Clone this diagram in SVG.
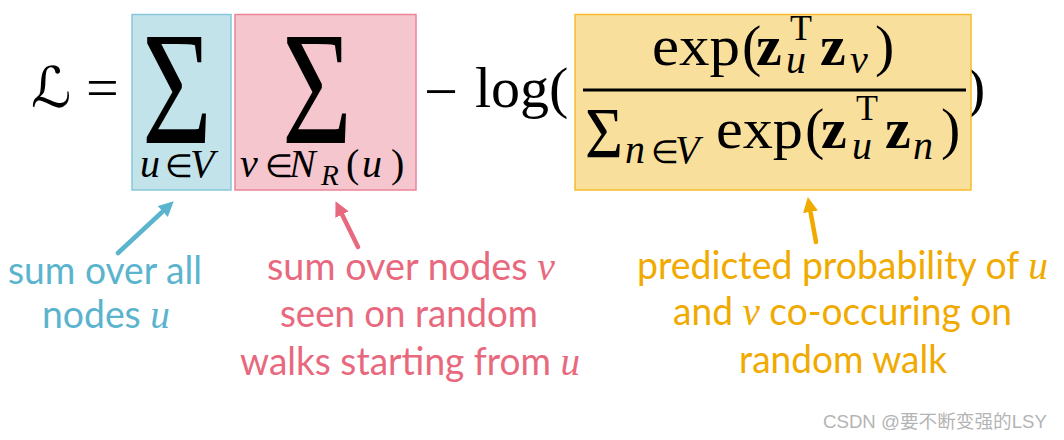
<svg xmlns="http://www.w3.org/2000/svg" width="1064" height="440" viewBox="0 0 1064 440">
<style>
.m{font-family:"Liberation Serif","Times New Roman",serif;font-size:58px;fill:#000}
.mi{font-family:"Liberation Serif","Times New Roman",serif;font-style:italic}
.mb{font-family:"Liberation Serif","Times New Roman",serif;font-weight:bold}
.sub{font-size:40px}
.el{font-size:32px}
.sup{font-size:36px}
.lab{font-family:Lato,"Open Sans","Liberation Sans",sans-serif;font-size:38px}
.li{font-family:"Liberation Serif",serif;font-style:italic;font-size:40px}
.blue{fill:#5AB4CE}
.pink{fill:#E8697E}
.yel{fill:#F0AA00}
.conn{fill:none;stroke-width:4.5;stroke-linecap:round}
</style>
<defs>
<marker id="hb" viewBox="0 0 10 10" refX="0" refY="5" markerWidth="15" markerHeight="15" markerUnits="userSpaceOnUse" orient="auto"><path d="M0,0 L10,5 L0,10 z" fill="#5AB4CE"/></marker>
<marker id="hp" viewBox="0 0 10 10" refX="0" refY="5" markerWidth="15" markerHeight="15" markerUnits="userSpaceOnUse" orient="auto"><path d="M0,0 L10,5 L0,10 z" fill="#E8697E"/></marker>
<marker id="hy" viewBox="0 0 10 10" refX="0" refY="5" markerWidth="15" markerHeight="15" markerUnits="userSpaceOnUse" orient="auto"><path d="M0,0 L10,5 L0,10 z" fill="#F0AA00"/></marker>
</defs>
<rect width="1064" height="440" fill="#fff"/>

<g id="lhs">
<text x="31" y="107" font-family="'DejaVu Serif','DejaVu Sans',serif" font-size="56" fill="#000">ℒ</text>
<text class="m" x="86" y="107">=</text>
</g>

<g id="term-sum-u">
<rect x="132" y="14.5" width="99" height="175.5" fill="#C3E3EA" stroke="#86C8DA" stroke-width="1.5"/>
<text class="m" x="142" y="143" style="font-size:160px" textLength="70" lengthAdjust="spacingAndGlyphs">Σ</text>
<text class="m sub" y="177"><tspan class="mi" x="140">u</tspan><tspan class="el" x="165">∈</tspan><tspan class="mi" x="190">V</tspan></text>
</g>

<g id="term-sum-v">
<rect x="235" y="14.5" width="181" height="175.5" fill="#F6C6CE" stroke="#EA8598" stroke-width="1.5"/>
<text class="m" x="282" y="143" style="font-size:160px" textLength="70" lengthAdjust="spacingAndGlyphs">Σ</text>
<text class="m sub" y="177"><tspan class="mi" x="240">v</tspan><tspan class="el" x="265">∈</tspan><tspan class="mi" x="289">N</tspan><tspan class="mi" x="321" y="185" style="font-size:29px">R</tspan><tspan x="346" y="177">(</tspan><tspan class="mi" x="362">u</tspan><tspan x="391">)</tspan></text>
</g>

<g id="term-log">
<text class="m" x="424" y="111" textLength="34" lengthAdjust="spacingAndGlyphs">−</text>
<text class="m" x="475" y="107">log(</text>
<text class="m" x="966" y="107">)</text>
</g>

<g id="term-prob">
<rect x="575" y="14.5" width="396" height="175.5" fill="#F9DF9C" stroke="#F6BC2A" stroke-width="1.5"/>
<text class="m" x="652" y="65" textLength="88" lengthAdjust="spacingAndGlyphs">exp</text>
<text class="m" y="65"><tspan x="742">(</tspan><tspan class="mb" x="756">z</tspan><tspan class="mb" x="820">z</tspan><tspan x="875">)</tspan></text>
<text class="m sub mi" x="786" y="73">u</text>
<text class="m sup" x="790" y="40">T</text>
<text class="m sub mi" x="850" y="73">v</text>
<line x1="583" y1="90" x2="966" y2="90" stroke="#000" stroke-width="3"/>
<text class="m" x="585" y="157" style="font-size:71px" textLength="38" lengthAdjust="spacingAndGlyphs">Σ</text>
<text class="m sub" y="163"><tspan class="mi" x="625">n</tspan><tspan class="el" x="651">∈</tspan><tspan class="mi" x="675">V</tspan></text>
<text class="m" x="716" y="148" textLength="87" lengthAdjust="spacingAndGlyphs">exp</text>
<text class="m" y="148"><tspan x="805">(</tspan><tspan class="mb" x="821">z</tspan><tspan class="mb" x="885">z</tspan><tspan x="941">)</tspan></text>
<text class="m sub mi" x="852" y="159">u</text>
<text class="m sup" x="856" y="120">T</text>
<text class="m sub mi" x="913" y="159">n</text>
</g>

<g id="label-u" class="blue">
<text class="lab" x="8" y="284" textLength="194" lengthAdjust="spacingAndGlyphs">sum over all</text>
<text class="lab" x="42" y="328" textLength="128" lengthAdjust="spacingAndGlyphs">nodes <tspan class="li">u</tspan></text>
</g>

<g id="label-v" class="pink">
<text class="lab" x="267" y="280" textLength="288" lengthAdjust="spacingAndGlyphs">sum over nodes <tspan class="li">v</tspan></text>
<text class="lab" x="280" y="327" textLength="258" lengthAdjust="spacingAndGlyphs">seen on random</text>
<text class="lab" x="240" y="375" textLength="340" lengthAdjust="spacingAndGlyphs">walks starting from <tspan class="li">u</tspan></text>
</g>

<g id="label-prob" class="yel">
<text class="lab" x="637" y="279" textLength="411" lengthAdjust="spacingAndGlyphs">predicted probability of <tspan class="li">u</tspan></text>
<text class="lab" x="673" y="325" textLength="339" lengthAdjust="spacingAndGlyphs">and <tspan class="li">v</tspan> co-occuring on</text>
<text class="lab" x="739" y="373" textLength="208" lengthAdjust="spacingAndGlyphs">random walk</text>
</g>

<g id="connectors">
<line class="conn" x1="118" y1="253" x2="162.7" y2="211.5" stroke="#5AB4CE" marker-end="url(#hb)"/>
<line class="conn" x1="358" y1="247" x2="342.1" y2="214.6" stroke="#E8697E" marker-end="url(#hp)"/>
<line class="conn" x1="816" y1="242" x2="810.5" y2="211.8" stroke="#F0AA00" marker-end="url(#hy)"/>
</g>

<g id="watermark">
<text x="823" y="428" font-family="'Liberation Sans','Noto Sans CJK SC',sans-serif" font-size="18" fill="#B4B4B4" textLength="224" lengthAdjust="spacingAndGlyphs">CSDN @要不断变强的LSY</text>
</g>
</svg>
